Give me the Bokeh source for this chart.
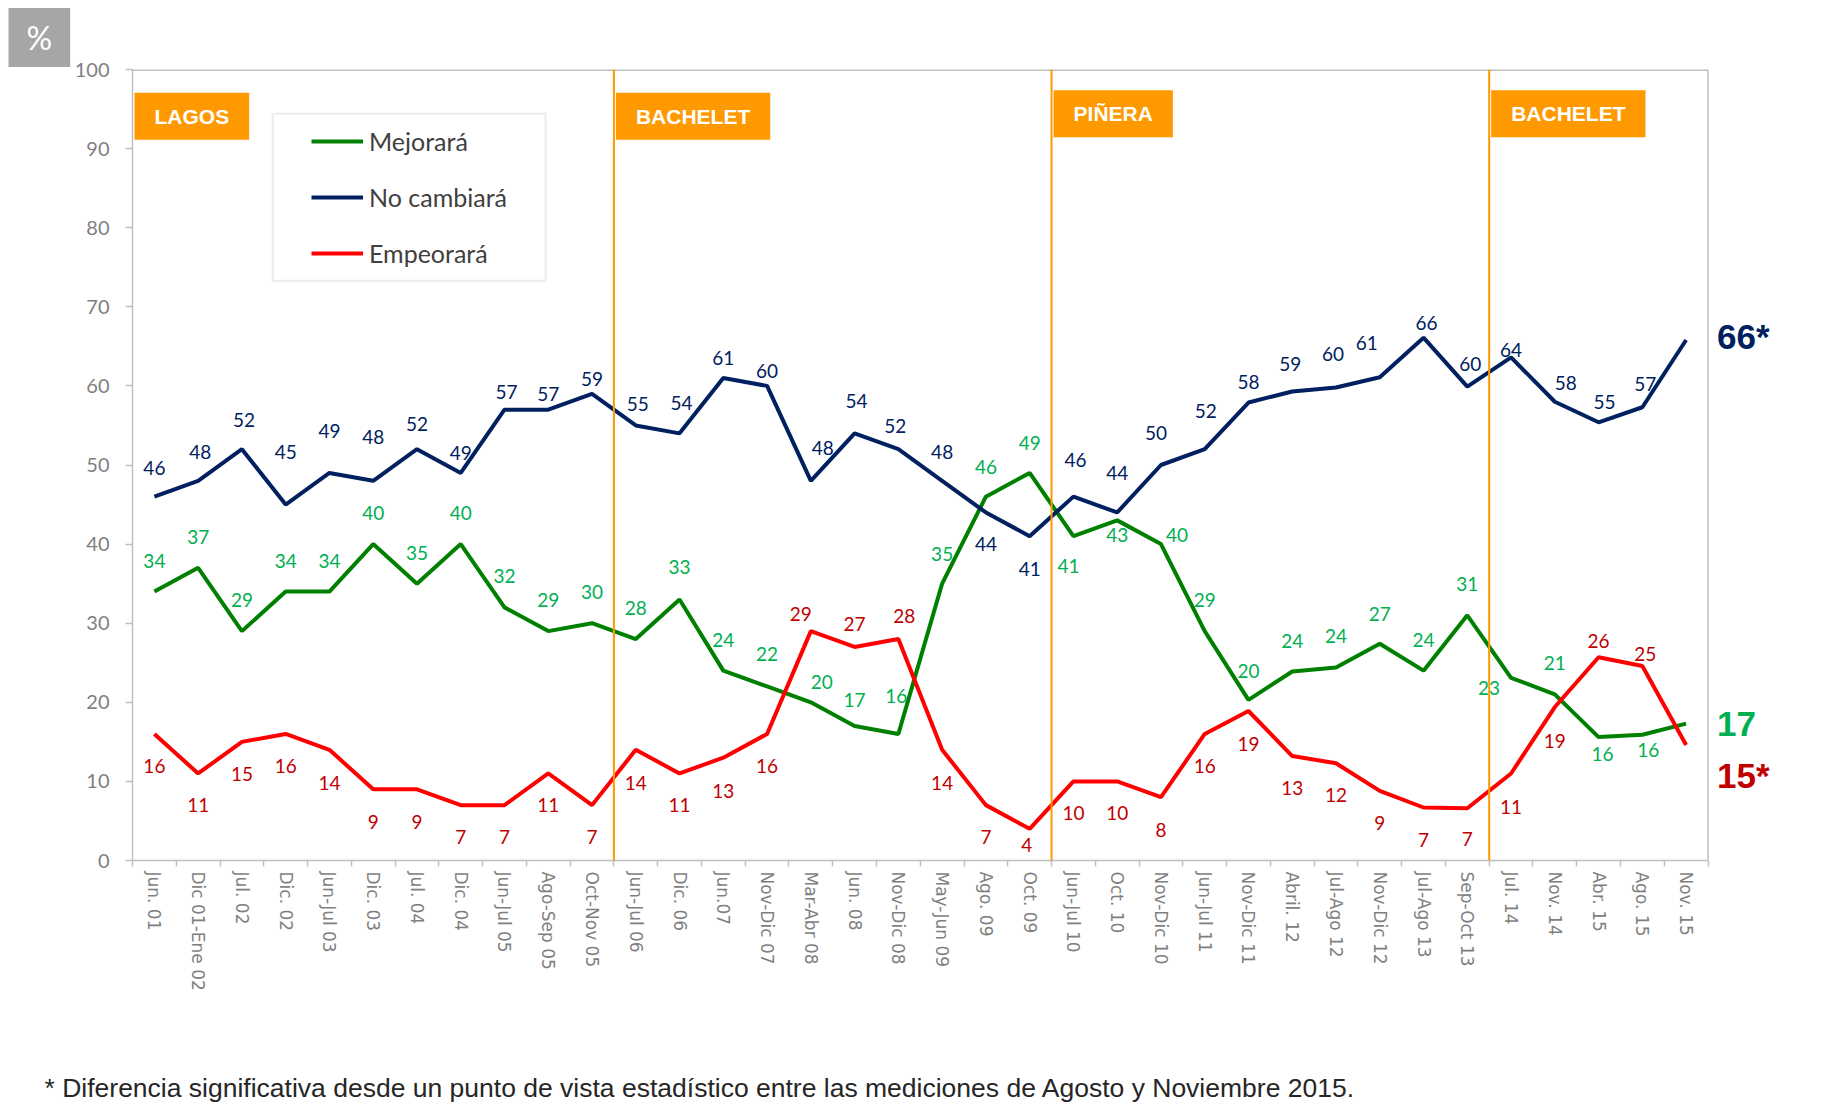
from bokeh.plotting import figure
from bokeh.models import (ColumnDataSource, FixedTicker, Span, Label, Legend,
                          LegendItem, BoxAnnotation, Range1d, Title)
from bokeh.embed import file_html
from bokeh.resources import INLINE
from bokeh.core.properties import value

# ---------------- data ----------------
categories = ["Jun. 01", "Dic 01-Ene 02", "Jul. 02", "Dic. 02", "Jun-Jul 03", "Dic. 03",
              "Jul. 04", "Dic. 04", "Jun-Jul 05", "Ago-Sep 05", "Oct-Nov 05", "Jun-Jul 06",
              "Dic. 06", "Jun.07", "Nov-Dic 07", "Mar-Abr 08", "Jun. 08", "Nov-Dic 08",
              "May-Jun 09", "Ago. 09", "Oct. 09", "Jun-Jul 10", "Oct. 10", "Nov-Dic 10",
              "Jun-Jul 11", "Nov-Dic 11", "Abril. 12", "Jul-Ago 12", "Nov-Dic 12",
              "Jul-Ago 13", "Sep-Oct 13", "Jul. 14", "Nov. 14", "Abr. 15", "Ago. 15", "Nov. 15"]

mejorara = [34, 37, 29, 34, 34, 40, 35, 40, 32, 29, 30, 28, 33, 24, 22, 20, 17, 16, 35, 46,
            49, 41, 43, 40, 29, 20.3, 23.9, 24.4, 27.4, 24, 31, 23.1, 21, 15.6, 15.9, 17.3]
no_cambiara = [46, 48, 52, 45, 49, 48, 52, 49, 57, 57, 59, 55, 54, 61, 60, 48, 54, 52, 48, 44,
               41, 46, 44, 50, 52, 57.9, 59.3, 59.8, 61.1, 66.1, 59.9, 63.6, 58, 55.4, 57.3, 65.8]
empeorara = [16, 11, 15, 16, 14, 9, 9, 7, 7, 11, 7, 14, 11, 13, 16, 29, 27, 28, 14, 7,
             4, 10, 10, 8, 16, 18.9, 13.2, 12.3, 8.8, 6.7, 6.6, 11, 19.4, 25.7, 24.6, 14.6]

series_names = ["Mejorará", "No cambiará", "Empeorará"]
last_significant = [False, True, True]

periods = ["LAGOS", "BACHELET", "PIÑERA", "BACHELET"]
period_start_index = [0, 11, 21, 31]

footnote = ("* Diferencia significativa desde un punto de vista estadístico entre las "
            "mediciones de Agosto y Noviembre 2015.")

# ---------------- styles ----------------
line_colors = ["#008000", "#002060", "#FF0000"]
label_colors = ["#00B050", "#002060", "#C00000"]
orange = "#FF9900"
gray_axis = "#BFBFBF"
gray_text = "#7F7F7F"

# label offsets (screen px, positive = down / right)
green_dy = [-31, -31, -31, -31, -31, -31, -31, -31, -31, -31, -31, -31, -32, -31, -32, -20, -26,
            -38, -30, -30, -30, 30, 15, -9, -31, -29, -30, -31, -30, -31, -31, 10, -31, 17, 15]
green_dx = [0] * 35
green_dx[15] = 11; green_dx[23] = 16; green_dx[21] = -5; green_dx[31] = -22
green_dx[33] = 4; green_dx[34] = 6; green_dx[17] = -2

navy_dy = [-29, -29, -29, -53, -42, -44, -25, -20, -18, -16, -15, -21, -30, -20, -15, -33, -32,
           -23, -29, 32, 33, -37, -39, -32, -38, -21, -27, -33, -34, -15, -23, -7, -19, -20, -23]
navy_dx = [0, 2, 2, 0, 0, 0, 0, 0, 2, 0, 0, 2, 2, 0, 0, 12, 2, -3, 0, 0, 0, 2, 0, -5, 1, 0,
           -2, -3, -13, 3, 3, 0, 11, 6, 3]

red_dy = [32, 32, 32, 32, 33, 33, 33, 32, 32, 32, 32, 33, 32, 33, 32, -17, -23, -23, 33, 32,
          16, 32, 32, 33, 32, 33, 32, 32, 32, 32, 31, 34, 34, -16, -12]
red_dx = [0] * 35
red_dx[15] = -10; red_dx[17] = 6; red_dx[20] = -3; red_dx[34] = 3

end_label_dy = [0, -4, 30]

W, H = 1821, 1115
n = len(categories)
xs = [i + 0.5 for i in range(n)]
x_end = n * 1683 / 1575.5   # room on the right of the last survey for the final labels

p = figure(width=W, height=H, output_backend="svg", toolbar_location=None,
           x_range=Range1d(0, x_end), y_range=Range1d(0, 100),
           min_border_left=132, min_border_right=6, min_border_top=69, min_border_bottom=255,
           background_fill_color="white", border_fill_color="white")
p.xgrid.visible = False
p.ygrid.visible = False
p.outline_line_color = None

# x axis
xa = p.xaxis[0]
xa.bounds = (0, n)
xa.ticker = FixedTicker(ticks=xs, minor_ticks=list(range(n + 1)))
xa.major_label_overrides = {x: c for x, c in zip(xs, categories)}
xa.major_label_orientation = "vertical"
xa.major_tick_line_color = None
xa.major_tick_out = 0
xa.major_tick_in = 0
xa.minor_tick_out = 6
xa.minor_tick_in = 0
xa.minor_tick_line_color = gray_axis
xa.minor_tick_line_width = 1.5
xa.axis_line_color = gray_axis
xa.axis_line_width = 1.5
xa.major_label_text_font = "DejaVu Sans"
xa.major_label_text_font_size = "17px"
xa.major_label_text_color = gray_text
xa.major_label_standoff = 5

# y axis
ya = p.yaxis[0]
ya.ticker = FixedTicker(ticks=list(range(0, 101, 10)))
ya.major_tick_out = 7
ya.major_tick_in = 0
ya.major_tick_line_color = gray_axis
ya.major_tick_line_width = 1.5
ya.minor_tick_line_color = None
ya.axis_line_color = gray_axis
ya.axis_line_width = 1.5
ya.major_label_text_font = "Lato"
ya.major_label_text_font_size = "20px"
ya.major_label_text_color = gray_text
ya.major_label_standoff = 16

# plot-area border (top and right)
p.segment(x0=[0], y0=[p.y_range.end], x1=[n], y1=[p.y_range.end],
          line_color=gray_axis, line_width=3)
p.add_layout(Span(location=n, dimension="height", line_color=gray_axis, line_width=1.5))

# government separators and tags
for idx in period_start_index[1:]:
    p.add_layout(Span(location=idx, dimension="height", line_color=orange, line_width=2))

period_label_y = [97.05, 97.05, 97.38, 97.38]
for name, idx, yy in zip(periods, period_start_index, period_label_y):
    p.add_layout(Label(x=idx, y=yy, x_offset=2, text=name, text_align="left",
                       text_baseline="top", text_font="Liberation Sans",
                       text_font_style="bold", text_font_size="21px", text_color="white",
                       background_fill_color=orange, padding=(20, 12)))

# series
all_vals = [mejorara, no_cambiara, empeorara]
all_dx = [green_dx, navy_dx, red_dx]
all_dy = [green_dy, navy_dy, red_dy]
renderers = []
for vals, lc, tc, dx, dy in zip(all_vals, line_colors, label_colors, all_dx, all_dy):
    r = p.line(xs, vals, line_color=lc, line_width=4)
    renderers.append(r)
    src = ColumnDataSource(dict(x=xs[:-1], y=vals[:-1],
                                t=[f"{v:.0f}" for v in vals[:-1]], dx=dx, dy=dy))
    p.text(x="x", y="y", text="t", x_offset="dx", y_offset="dy", source=src,
           text_font=value("Lato"), text_font_size="19px", text_color=tc,
           text_align="center", text_baseline="middle")

# end labels (last survey, bold)
end_src = ColumnDataSource(dict(
    x=[n] * 3, y=[v[-1] for v in all_vals],
    t=[f"{v[-1]:.0f}" + ("*" if s else "") for v, s in zip(all_vals, last_significant)],
    c=label_colors, dy=end_label_dy))
p.text(x="x", y="y", text="t", x_offset=9, y_offset="dy", text_color="c", source=end_src,
       text_font=value("Liberation Sans"), text_font_style="bold", text_font_size="35px",
       text_align="left", text_baseline="middle")

# legend
p.add_layout(BoxAnnotation(left=3.205, right=9.44, top=94.4, bottom=73.3,
                           fill_alpha=0, line_color=gray_axis, line_width=2))
legend = Legend(items=[LegendItem(label=nm, renderers=[r]) for nm, r in zip(series_names, renderers)],
                location=(179, 592), orientation="vertical", padding=0, margin=0,
                spacing=26, glyph_width=52, glyph_height=30, label_height=30,
                label_standoff=6, border_line_alpha=0, background_fill_alpha=0,
                label_text_font="Lato", label_text_font_size="25px",
                label_text_color="#404040")
p.add_layout(legend)

# "%" tag (above)
p.add_layout(Title(text="%", align="left", vertical_align="bottom", offset=-124, standoff=5,
                   text_font="Lato", text_font_size="32px", text_font_style="normal",
                   text_color="white", background_fill_color="#A6A6A6", padding=(18, 10)),
             "above")
# footnote (below), pushed down with top padding (left, right, top, bottom)
p.add_layout(Title(text=footnote, align="left", vertical_align="top", offset=-88, standoff=0,
                   text_font="Liberation Sans", text_font_size="26.5px", text_font_style="normal",
                   text_color="#262626", padding=(0, 0, 79, 0)),
             "below")

open("out.html", "w").write(file_html(p, INLINE))
